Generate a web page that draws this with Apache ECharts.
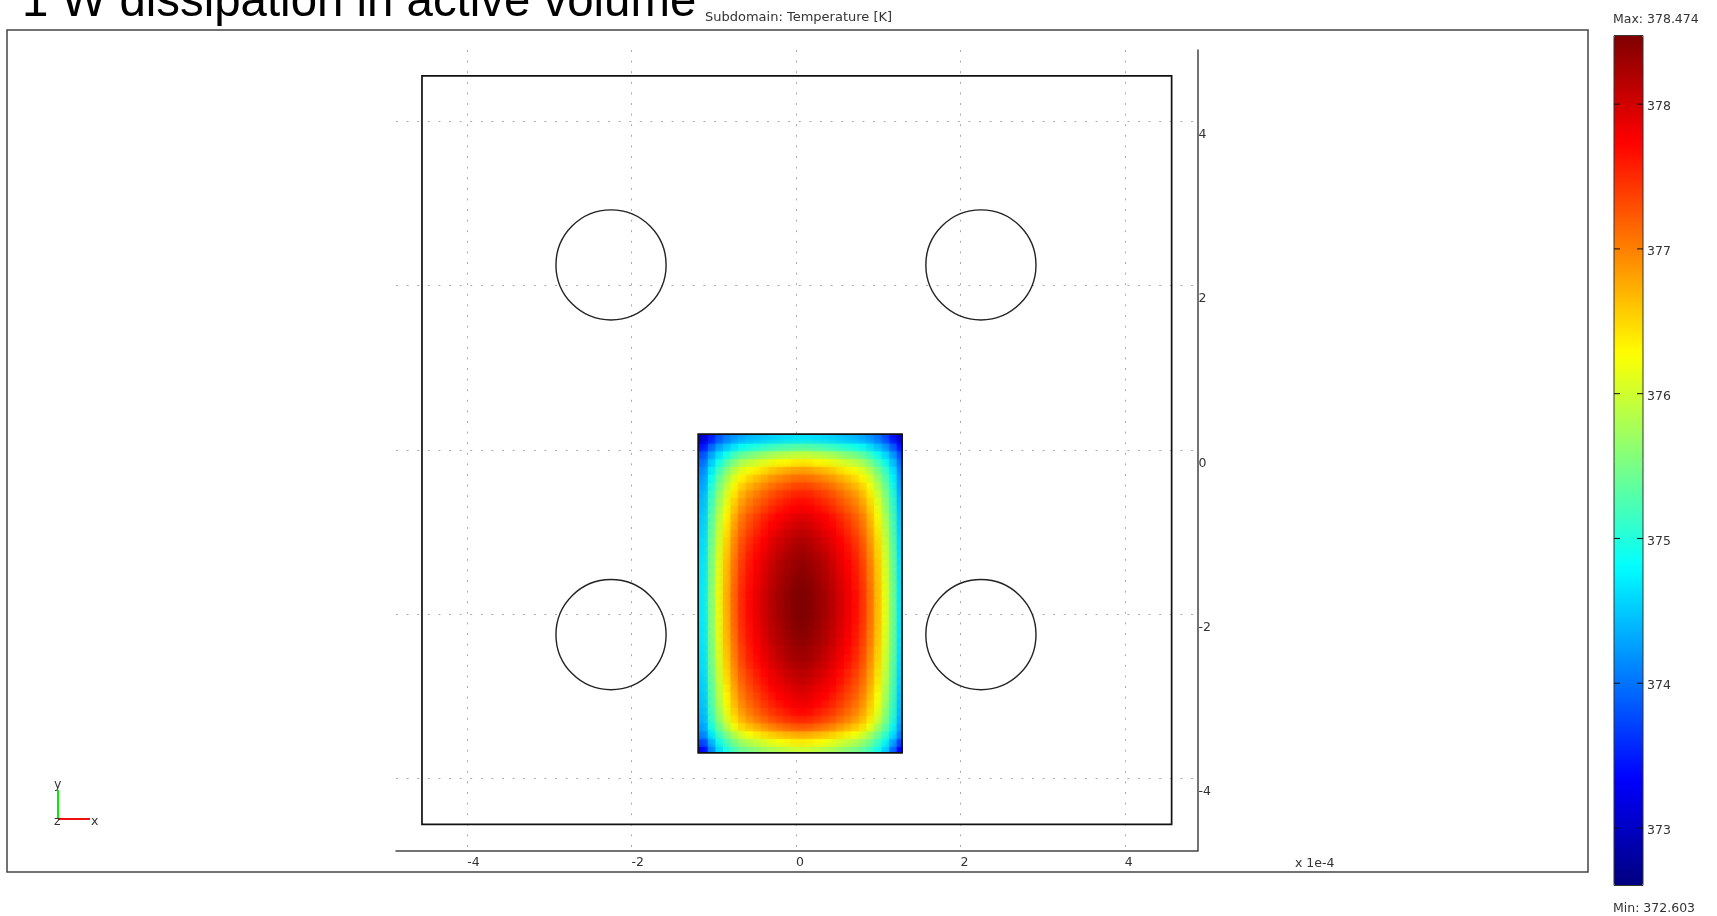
<!DOCTYPE html>
<html><head><meta charset="utf-8">
<style>html,body{margin:0;padding:0;background:#fff}#c{width:1717px;height:916px}</style>
<script src="https://cdn.jsdelivr.net/npm/echarts@6/dist/echarts.min.js"></script>
</head><body><div id="c"></div>
<script>
const titleText = '1 W dissipation in active volume';
const subTitleText = 'Subdomain: Temperature [K]';
const xTicks = [-4, -2, 0, 2, 4];
const yTicks = [-4, -2, 0, 2, 4];
const barTicks = [373, 374, 375, 376, 377, 378];
const tMin = 372.603, tMax = 378.474;
const outerBox = [[-4.55, 4.55, 4.57, -4.56]];
const activeBox = [[-1.19, 0.19, 1.29, -3.69]];
const holes = [[-2.25, 2.25, 0.67], [2.25, 2.25, 0.67], [-2.25, -2.25, 0.67], [2.25, -2.25, 0.67]];
const jet = ['#00007f', '#0000ff', '#007fff', '#00ffff', '#7fff7f', '#ffff00', '#ff7f00', '#ff0000', '#7f0000'];
// left half of each row of cells (centre column last); the field is mirror-symmetric in x
const halfRows = [
[373.05,373.45,373.80,374.03,374.18,374.30,374.38,374.44,374.49,374.54,374.58,374.61,374.64,374.65],
[373.40,373.85,374.19,374.42,374.61,374.77,374.86,374.94,375.00,375.07,375.12,375.16,375.20,375.21],
[373.75,374.23,374.59,374.86,375.11,375.30,375.42,375.51,375.60,375.68,375.74,375.79,375.84,375.86],
[373.93,374.48,374.89,375.21,375.49,375.72,375.85,375.96,376.06,376.15,376.22,376.28,376.34,376.36],
[374.08,374.69,375.14,375.50,375.81,376.06,376.21,376.33,376.43,376.54,376.62,376.68,376.75,376.77],
[374.18,374.83,375.32,375.70,376.04,376.30,376.46,376.59,376.70,376.82,376.90,376.97,377.04,377.06],
[374.26,374.95,375.46,375.86,376.22,376.50,376.66,376.80,376.92,377.04,377.13,377.20,377.27,377.30],
[374.34,375.05,375.59,376.01,376.37,376.67,376.84,376.98,377.11,377.23,377.33,377.40,377.48,377.50],
[374.39,375.13,375.68,376.11,376.49,376.79,376.97,377.12,377.24,377.37,377.47,377.55,377.62,377.65],
[374.43,375.19,375.75,376.19,376.58,376.89,377.07,377.22,377.35,377.48,377.58,377.66,377.74,377.77],
[374.48,375.26,375.84,376.29,376.69,377.01,377.20,377.35,377.49,377.62,377.72,377.80,377.89,377.91],
[374.51,375.30,375.89,376.35,376.76,377.08,377.27,377.43,377.57,377.71,377.81,377.89,377.97,378.00],
[374.54,375.35,375.95,376.41,376.83,377.15,377.35,377.51,377.65,377.79,377.89,377.98,378.06,378.09],
[374.58,375.39,376.00,376.48,376.89,377.23,377.43,377.59,377.73,377.87,377.98,378.06,378.15,378.18],
[374.60,375.42,376.04,376.52,376.94,377.28,377.48,377.64,377.78,377.93,378.03,378.12,378.21,378.24],
[374.62,375.45,376.07,376.56,376.98,377.32,377.53,377.69,377.84,377.98,378.09,378.18,378.26,378.29],
[374.64,375.48,376.11,376.60,377.03,377.37,377.58,377.75,377.89,378.04,378.15,378.24,378.32,378.35],
[374.65,375.50,376.13,376.62,377.05,377.40,377.60,377.77,377.92,378.07,378.18,378.26,378.35,378.38],
[374.66,375.51,376.14,376.64,377.07,377.42,377.63,377.80,377.95,378.09,378.20,378.29,378.38,378.41],
[374.67,375.53,376.16,376.66,377.10,377.45,377.65,377.82,377.97,378.12,378.23,378.32,378.41,378.44],
[374.68,375.54,376.18,376.68,377.12,377.47,377.68,377.85,378.00,378.15,378.26,378.35,378.44,378.47],
[374.68,375.54,376.18,376.68,377.12,377.47,377.68,377.85,378.00,378.15,378.26,378.35,378.44,378.47],
[374.68,375.54,376.18,376.68,377.12,377.47,377.68,377.85,378.00,378.15,378.26,378.35,378.44,378.47],
[374.68,375.53,376.17,376.67,377.11,377.46,377.67,377.84,377.99,378.14,378.25,378.34,378.43,378.46],
[374.67,375.53,376.16,376.66,377.10,377.45,377.65,377.82,377.97,378.12,378.23,378.32,378.41,378.44],
[374.66,375.51,376.14,376.64,377.07,377.42,377.63,377.80,377.95,378.09,378.20,378.29,378.38,378.41],
[374.65,375.50,376.13,376.62,377.05,377.40,377.60,377.77,377.92,378.07,378.18,378.26,378.35,378.38],
[374.63,375.47,376.09,376.58,377.01,377.35,377.55,377.72,377.87,378.01,378.12,378.21,378.29,378.32],
[374.62,375.45,376.07,376.56,376.98,377.32,377.53,377.69,377.84,377.98,378.09,378.18,378.26,378.29],
[374.60,375.42,376.04,376.52,376.94,377.28,377.48,377.64,377.78,377.93,378.03,378.12,378.21,378.24],
[374.57,375.38,375.98,376.46,376.87,377.20,377.40,377.56,377.70,377.84,377.95,378.03,378.12,378.15],
[374.54,375.35,375.95,376.41,376.83,377.15,377.35,377.51,377.65,377.79,377.89,377.98,378.06,378.09],
[374.51,375.30,375.89,376.35,376.76,377.08,377.27,377.43,377.57,377.71,377.81,377.89,377.97,378.00],
[374.48,375.26,375.84,376.29,376.69,377.01,377.20,377.35,377.49,377.62,377.72,377.80,377.89,377.91],
[374.45,375.22,375.79,376.23,376.62,376.93,377.12,377.27,377.41,377.54,377.64,377.72,377.80,377.82],
[374.41,375.16,375.71,376.15,376.53,376.84,377.02,377.17,377.30,377.43,377.52,377.60,377.68,377.71],
[374.36,375.08,375.63,376.05,376.42,376.72,376.89,377.04,377.16,377.29,377.38,377.46,377.53,377.56],
[374.26,374.95,375.46,375.86,376.22,376.50,376.66,376.80,376.92,377.04,377.13,377.20,377.27,377.30],
[374.10,374.72,375.18,375.54,375.85,376.11,376.26,376.38,376.49,376.60,376.68,376.74,376.80,376.83],
[373.75,374.40,374.91,375.23,375.52,375.74,375.88,375.99,376.08,376.18,376.25,376.31,376.37,376.39],
[373.35,374.05,374.60,374.95,375.20,375.40,375.52,375.62,375.71,375.79,375.85,375.91,375.96,375.98]
];

const rows = halfRows.map(r => r.concat(r.slice(0, -1).reverse()));
const cellX = rows[0].map((_, i) => String(i));
const cellY = rows.map((_, j) => String(j));
const cells = [];
rows.forEach((r, j) => r.forEach((t, i) => cells.push([i, j, t])));

const uiFont = '"DejaVu Sans"';
const ink = '#333';
const boxItem = (params, api) => {
  const a = api.coord([api.value(0), api.value(1)]);
  const b = api.coord([api.value(2), api.value(3)]);
  return {type: 'rect', shape: {x: a[0], y: a[1], width: b[0] - a[0], height: b[1] - a[1]},
          style: {fill: 'none', stroke: '#111', lineWidth: 1.7}};
};
const holeItem = (params, api) => {
  const c = api.coord([api.value(0), api.value(1)]);
  return {type: 'circle', shape: {cx: c[0], cy: c[1], r: api.size([api.value(2), 0])[0]},
          style: {fill: 'none', stroke: '#222', lineWidth: 1.4}};
};
const softShift = 2;
const cellItem = (params, api) => {
  const i = api.value(0), j = api.value(1);
  const c = api.coord([i, j]);
  const s = api.size([1, 1]);
  const color = api.visual('color');
  const dx = i === 0 ? softShift : 0, dy = j === 0 ? softShift : 0;
  return {type: 'rect',
          shape: {x: c[0] - s[0] / 2 + softShift - dx, y: c[1] - s[1] / 2 + softShift - dy,
                  width: s[0] + 0.6 + dx, height: s[1] + 0.6 + dy},
          style: {fill: color, shadowColor: color, shadowBlur: 9}};
};
const tickItem = (params, api) => {
  const a = api.coord([0, api.value(0)]);
  const b = api.coord([1, api.value(0)]);
  const line = (x1, x2) => ({type: 'line', shape: {x1, y1: a[1], x2, y2: a[1]}, style: {stroke: '#111', lineWidth: 1}});
  return {type: 'group', children: [line(a[0], a[0] + 6), line(b[0] - 6, b[0])]};
};
const txt = (x, y, text, extra) => ({type: 'text', x, y, silent: true,
  style: Object.assign({text, fill: ink, font: '12.5px ' + uiFont, textAlign: 'left', textVerticalAlign: 'middle'}, extra || {})});
const seg = (x1, y1, x2, y2, stroke) => ({type: 'line', silent: true,
  shape: {x1, y1, x2, y2}, style: {stroke, lineWidth: 2}});

const chart = echarts.init(document.getElementById('c'), null, {renderer: 'canvas'});
chart.setOption({
  animation: false,
  backgroundColor: '#fff',
  title: [
    {text: titleText, left: 22, top: -21, padding: 0,
     textStyle: {fontFamily: '"Liberation Sans"', fontSize: 47.4, fontWeight: 'normal', color: '#000'}},
    {text: subTitleText, left: 705, top: 11, padding: 0,
     textStyle: {fontFamily: uiFont, fontSize: 13, fontWeight: 'normal', color: ink}}
  ],
  grid: [
    {left: 396, right: 519.4, top: 50, bottom: 65.3, show: false},
    {left: 698.3, top: 434, width: 204, height: 318.7, show: false},
    {left: 1614, right: 74, top: 35.5, bottom: 30.5, show: true, z: 10,
     backgroundColor: 'transparent', borderColor: '#333', borderWidth: 1}
  ],
  xAxis: [
    {type: 'value', gridIndex: 0, min: -4.866, max: 4.886, position: 'bottom',
     axisLine: {onZero: false, lineStyle: {color: '#444', width: 1.5}},
     axisTick: {show: false, customValues: xTicks},
     axisLabel: {customValues: xTicks, align: 'left', margin: 6, color: ink, fontFamily: uiFont, fontSize: 12.5,
                 formatter: v => String(v)},
     splitLine: {show: true, lineStyle: {color: '#aaa', width: 1, type: [2, 8.6]}}},
    {type: 'category', gridIndex: 1, data: cellX, show: false},
    {type: 'value', gridIndex: 2, min: 0, max: 1, show: false}
  ],
  yAxis: [
    {type: 'value', gridIndex: 0, min: -4.88, max: 4.866, position: 'right',
     axisLine: {onZero: false, lineStyle: {color: '#444', width: 1.5}},
     axisTick: {show: false, customValues: yTicks},
     axisLabel: {customValues: yTicks, inside: false, align: 'left', verticalAlign: 'top', margin: 1, padding: [7, 0, 0, 0],
                 color: ink, fontFamily: uiFont, fontSize: 12.5, formatter: v => String(v)},
     splitLine: {show: true, lineStyle: {color: '#aaa', width: 1, type: [2, 8.6]}}},
    {type: 'category', gridIndex: 1, data: cellY, inverse: true, show: false},
    {type: 'value', gridIndex: 2, min: tMin, max: tMax, position: 'right', z: 10,
     axisLine: {show: false},
     axisTick: {show: false, customValues: barTicks},
     axisLabel: {customValues: barTicks, margin: 4, verticalAlign: 'top', lineHeight: 6, color: ink, fontFamily: uiFont, fontSize: 12.5,
                 formatter: v => String(v)},
     splitLine: {show: false}}
  ],
  visualMap: {
    type: 'continuous', seriesIndex: 0, dimension: 2, min: tMin, max: tMax,
    left: 1614, top: 35.5, itemWidth: 29, itemHeight: 850, padding: 0,
    calculable: false, hoverLink: false, inRange: {color: jet}
  },
  series: [
    {type: 'custom', xAxisIndex: 1, yAxisIndex: 1, data: cells, renderItem: cellItem, silent: true, clip: true, z: 3,
     progressive: 0, encode: {x: 0, y: 1}},
    {type: 'custom', xAxisIndex: 0, yAxisIndex: 0, data: outerBox, renderItem: boxItem, silent: true, clip: false, z: 4,
     encode: {x: [0, 2], y: [1, 3]}},
    {type: 'custom', xAxisIndex: 0, yAxisIndex: 0, data: activeBox, renderItem: boxItem, silent: true, clip: false, z: 5,
     encode: {x: [0, 2], y: [1, 3]}},
    {type: 'custom', xAxisIndex: 0, yAxisIndex: 0, data: holes, renderItem: holeItem, silent: true, clip: false, z: 4,
     encode: {x: 0, y: 1}},
    {type: 'custom', xAxisIndex: 2, yAxisIndex: 2, data: barTicks, renderItem: tickItem, silent: true, clip: false, z: 20,
     encode: {y: 0}}
  ],
  graphic: [
    {type: 'rect', silent: true, z: -1, shape: {x: 7, y: 30, width: 1581, height: 842},
     style: {fill: 'none', stroke: '#444', lineWidth: 1.5}},
    seg(58, 819, 58, 790, '#00ee00'),
    seg(58, 819, 90, 819, '#f01010'),
    txt(54, 785, 'y'), txt(91, 822, 'x'), txt(54, 822, 'z'),
    txt(1295, 864, 'x 1e-4'),
    txt(1613, 20, 'Max: 378.474'),
    txt(1613, 909, 'Min: 372.603')
  ]
});
</script></body></html>
